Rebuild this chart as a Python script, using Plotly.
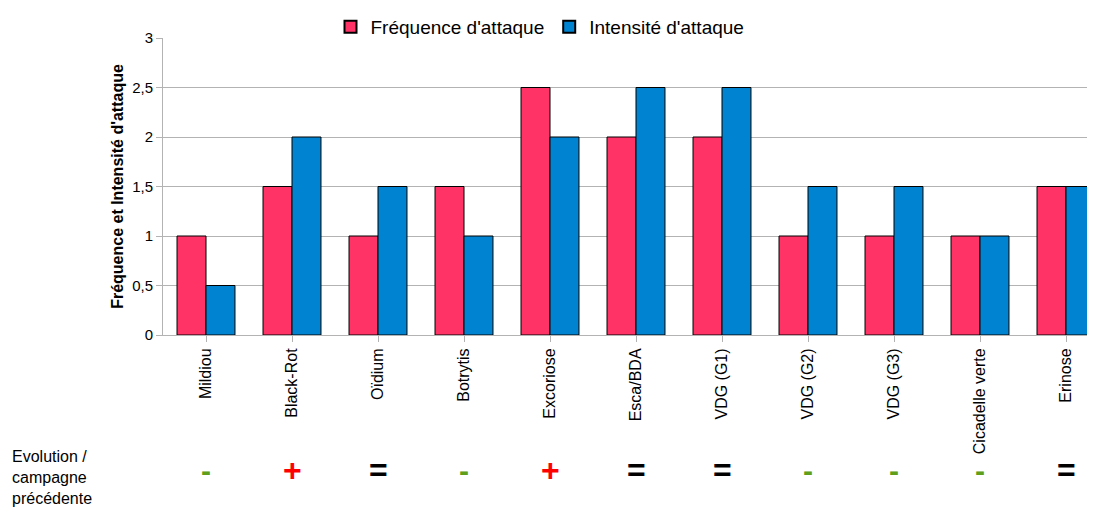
import plotly.graph_objects as go

categories = ["Mildiou", "Black-Rot", "Oïdium", "Botrytis", "Excoriose", "Esca/BDA",
              "VDG (G1)", "VDG (G2)", "VDG (G3)", "Cicadelle verte", "Erinose"]
frequence = [1, 1.5, 1, 1.5, 2.5, 2, 2, 1, 1, 1, 1.5]
intensite = [0.5, 2, 1.5, 1, 2, 2.5, 2.5, 1.5, 1.5, 1, 1.5]
evolution = ["-", "+", "=", "-", "+", "=", "=", "-", "-", "-", "="]
evo_colors = {"-": "#5ea01e", "+": "#ff0000", "=": "#000000"}
row_label = ["Evolution /", "campagne", "précédente"]

# page body has an 8px default margin: compensate
OFF = 8
W, H = 1095 - OFF, 509 - OFF
L, R, T, B = 163 - OFF, 0, 38 - OFF, 174

fig = go.Figure()
fig.add_trace(go.Bar(x=list(range(len(categories))), y=frequence, name="Fréquence d'attaque",
                     marker=dict(color="#ff3366", line=dict(color="#000000", width=1))))
fig.add_trace(go.Bar(x=list(range(len(categories))), y=intensite, name="Intensité d'attaque",
                     marker=dict(color="#0084d1", line=dict(color="#000000", width=1))))

plot_h = H - T - B
plot_w = W - L - R
annotations = []
for i, s in enumerate(evolution):
    annotations.append(dict(x=i, xref="x", y=(335 - 470) / plot_h, yref="paper",
                            text="<b>%s</b>" % s, showarrow=False,
                            font=dict(family="Liberation Sans", size=32 if s != "-" else 30,
                                      color=evo_colors[s]),
                            xanchor="center", yanchor="middle"))
for k, line in enumerate(row_label):
    annotations.append(dict(x=(10 - OFF - L) / plot_w, xref="paper",
                            y=(335 - (456 + 21 * k)) / plot_h, yref="paper",
                            text=line, showarrow=False,
                            align="left", xanchor="left", yanchor="middle",
                            font=dict(family="Liberation Sans", size=16, color="#000000")))

span = 86.0
xmax = -0.5 + plot_w / span

fig.update_layout(
    width=W, height=H,
    margin=dict(l=L, r=R, t=T, b=B, pad=0),
    paper_bgcolor="white", plot_bgcolor="white",
    barmode="group", bargap=0.326, bargroupgap=0,
    separators=", ",
    font=dict(family="Liberation Sans", color="#000000"),
    legend=dict(orientation="h", x=(540 - OFF - L) / plot_w, xanchor="center",
                y=1.0 + T / plot_h, yanchor="top", font=dict(size=19), itemsizing="constant",
                tracegroupgap=0, itemwidth=30, bgcolor="rgba(0,0,0,0)"),
    xaxis=dict(tickmode="array", tickvals=list(range(len(categories))), ticktext=categories,
               range=[-0.5, xmax], tickangle=-90, tickfont=dict(size=16, color="#000000"),
               ticks="outside", tickson="boundaries", ticklen=6, tickcolor="#b3b3b3",
               showline=True, linecolor="#b3b3b3", showgrid=False, zeroline=False),
    yaxis=dict(range=[0, 3], dtick=0.5, tick0=0, showgrid=True, gridcolor="#b3b3b3",
               ticks="outside", ticklen=6, tickcolor="#b3b3b3", showline=True,
               linecolor="#b3b3b3", zeroline=False, tickfont=dict(size=15, color="#000000"),
               title=dict(text="<b>Fréquence et Intensité d'attaque</b>",
                          font=dict(size=16, color="#000000"), standoff=4)),
    annotations=annotations,
)

fig.write_html("out.html")
